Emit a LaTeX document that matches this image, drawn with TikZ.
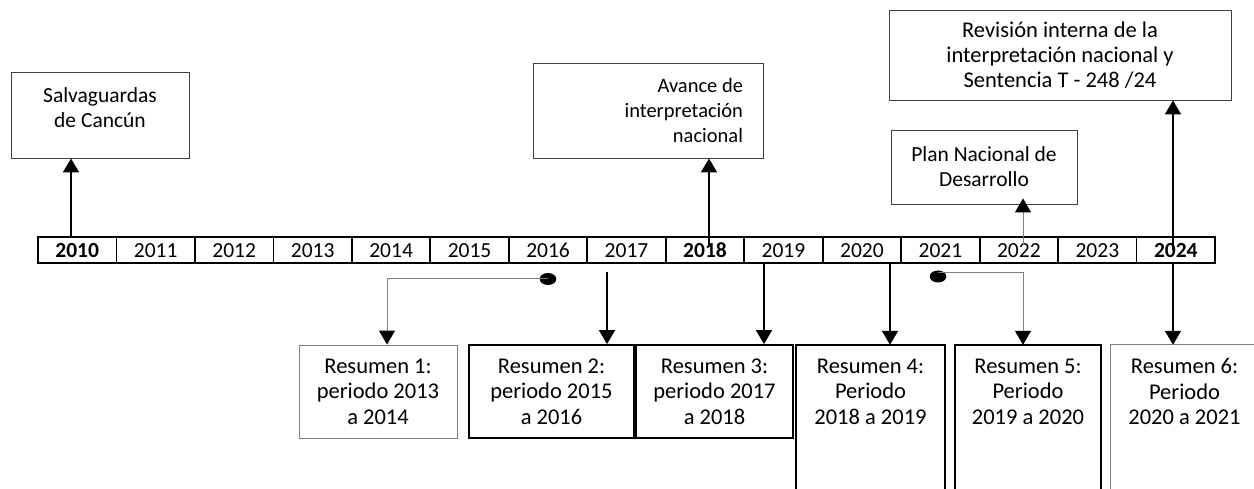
\documentclass[tikz,border=0pt]{standalone}
\usepackage{fontspec}
\setmainfont{Carlito}
\usetikzlibrary{arrows.meta}
\definecolor{gline}{HTML}{7F7F7F}
\definecolor{dline}{HTML}{404040}
\begin{document}
\begin{tikzpicture}[x=1pt,y=-1pt,
  yearcell/.style={draw=black,line width=1.8pt,minimum width=78.47pt,minimum height=26pt,inner sep=0pt,text height=15pt,text depth=0pt,font=\fontsize{21.5}{25}\selectfont},
  topbox/.style={draw=dline,line width=0.9pt,align=center,inner sep=0pt,font=\fontsize{21.5}{25}\selectfont},
  resbox/.style={align=center,inner sep=0pt,minimum height=93pt,font=\fontsize{22.5}{25.5}\selectfont},
  thickbox/.style={resbox,draw=black,line width=1.8pt},
  thinbox/.style={resbox,draw=gline,line width=0.9pt},
  thickline/.style={draw=black,line width=1.8pt},
  thinline/.style={draw=gline,line width=0.9pt},
  arr/.style={line width=1.8pt,-{Triangle[width=16pt,length=14pt]}},
  garr/.style={draw=gline,line width=1pt,-{Triangle[width=16pt,length=14pt,color=black]}},
]
\useasboundingbox (0,0) rectangle (1254,489);
\clip (0,0) rectangle (1254,489);

% timeline
\foreach \yr/\txt [count=\i from 0] in {2010/\textbf{2010},2011/2011,2012/2012,2013/2013,2014/2014,2015/2015,2016/2016,2017/2017,2018/\textbf{2018},2019/2019,2020/2020,2021/2021,2022/2022,2023/2023,2024/\textbf{2024}}{
  \node[yearcell] (y\yr) at ({38+78.47*(\i+0.5)},250) {\txt};
}

% top boxes
\node[topbox,minimum width=178pt,minimum height=86pt] (salv) at (100,115) {Salvaguardas\\de Cancún\\[-10pt]\mbox{}};
\node[topbox,minimum width=230pt,minimum height=95pt,text width=190pt,align=flush right,font=\fontsize{20.5}{25}\selectfont] (avance) at (648,110.5) {Avance de\\interpretación\\nacional};
\node[topbox,minimum width=342pt,minimum height=90pt,font=\fontsize{22.5}{25}\selectfont] (rev) at (1060,55) {Revisión interna de la\\interpretación nacional y\\Sentencia T - 248 /24};
\node[topbox,minimum width=186pt,minimum height=74pt] (plan) at (984,167) {Plan Nacional de\\Desarrollo};

% bottom boxes
\node[thinbox,minimum width=158pt] (r1) at (378,391.5) {Resumen 1:\\periodo 2013\\a 2014};
\node[thickbox,minimum width=165pt] (r2) at (551.5,391.5) {Resumen 2:\\periodo 2015\\a 2016};
\node[thickbox,minimum width=157pt] (r3) at (714.5,391.5) {Resumen 3:\\periodo 2017\\a 2018};
\node[resbox,minimum width=149pt] (r4) at (870.5,391.5) {Resumen 4:\\Periodo\\2018 a 2019};
\node[resbox,minimum width=146pt] (r5) at (1028,391.5) {Resumen 5:\\Periodo\\2019 a 2020};
\node[resbox,minimum width=147pt] (r6) at (1184.5,391.5) {Resumen 6:\\Periodo\\2020 a 2021};
\draw[thickline] (r4.north east) ++(0,150) -- (r4.north east) -- (r4.north west) -- ++(0,150);
\draw[thickline] (r5.north east) ++(0,150) -- (r5.north east) -- (r5.north west) -- ++(0,150);
\draw[thinline] (r6.north east) ++(0,150) -- (r6.north east) -- (r6.north west) -- ++(0,150);

% upward connectors
\coordinate (s0) at (71,237);
\coordinate (s1) at (709,245);
\coordinate (s2) at (1023,245);
\coordinate (s3) at (1173,250);
\draw[arr] (s0) -- (s0 |- salv.south);
\draw[arr] (s1) -- (s1 |- avance.south);
\draw[garr,shorten >=-6pt] (s2) -- (s2 |- plan.south);
\draw[arr] (s3) -- (s3 |- rev.south);

% downward connectors
\coordinate (b2) at (607,272);
\coordinate (b3) at (764,263);
\coordinate (b4) at (890,263);
\coordinate (b6) at (1173,263);
\draw[arr] (b2) -- (b2 |- r2.north);
\draw[arr] (b3) -- (b3 |- r3.north);
\draw[arr] (b4) -- (b4 |- r4.north);
\draw[arr] (b6) -- (b6 |- r6.north);

% dot connectors
\coordinate (d1) at (548,279);
\coordinate (d5) at (938,276.5);
\fill[black] (d1) ellipse [x radius=8.3, y radius=6];
\fill[black] (d5) ellipse [x radius=8.3, y radius=6];
\draw[garr] (d1) -| ([xshift=9pt]r1.north);
\draw[garr] ([yshift=4pt]d5) -| ([xshift=-5pt]r5.north);
\end{tikzpicture}
\end{document}
